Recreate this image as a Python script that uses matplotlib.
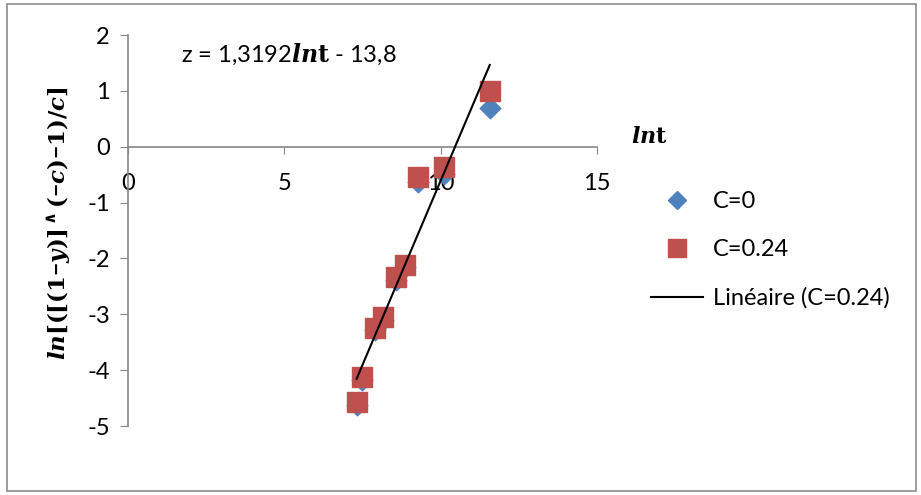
import numpy as np
import matplotlib.pyplot as plt
from matplotlib.patches import Rectangle
from matplotlib.lines import Line2D

plt.rcParams['font.family'] = ['Lato', 'DejaVu Sans']
plt.rcParams['mathtext.fontset'] = 'dejavuserif'
plt.rcParams['axes.unicode_minus'] = False

# ln t and linearised conversion for the two values of C
lnt = [7.31, 7.49, 7.89, 8.17, 8.58, 8.87, 9.28, 10.11, 11.57]
z_c0 = [-4.62, -4.18, -3.29, -3.10, -2.39, -2.16, -0.63, -0.48, 0.70]
z_c024 = [-4.57, -4.13, -3.24, -3.05, -2.34, -2.11, -0.55, -0.37, 0.99]

# linear trend for C=0.24
slope = 1.3192
intercept = -13.8

blue = '#4F81BD'
red = '#C0504D'
grey = '#868686'

fig = plt.figure(figsize=(9.21, 4.95), dpi=100)
ax = fig.add_axes([128/921, 1-426/495, (597-128)/921, (426-35)/495])

ax.scatter(lnt, z_c0, marker='D', s=110, color=blue, zorder=3, label='C=0')
ax.scatter(lnt, z_c024, marker='s', s=210, color=red, zorder=4, label='C=0.24')
xf = np.array([min(lnt), max(lnt)])
ax.plot(xf, slope*xf + intercept, color='black', lw=1.5, zorder=5, label='Linéaire (C=0.24)')

ax.set_xlim(0, 15)
ax.set_ylim(-5, 2)
ax.set_xticks([0, 5, 10, 15])
ax.set_yticks(range(-5, 3))
ax.spines['left'].set_position(('data', 0))
ax.spines['bottom'].set_position(('data', 0))
ax.spines['top'].set_visible(False)
ax.spines['right'].set_visible(False)
for s in ['left', 'bottom']:
    ax.spines[s].set_color(grey)
    ax.spines[s].set_linewidth(1.2)
ax.tick_params(axis='x', direction='out', length=5, pad=14, colors=grey, labelcolor='black', labelsize=17)
ax.tick_params(axis='y', direction='out', length=6, pad=7, colors=grey, labelcolor='black', labelsize=17)
ax.patch.set_visible(False)

ax.text(1.7, 1.65, r'z = 1,3192$\boldsymbol{ln}$$\mathbf{t}$ - 13,8', fontsize=17, va='center')
ax.text(16.1, 0.18, r'$\boldsymbol{ln}$$\mathbf{t}$', fontsize=16, va='center', clip_on=False)

fig.text(59/921, 1-223/495,
         r'$\boldsymbol{ln}$$\mathbf{[([(1}$−$\boldsymbol{y}$$\mathbf{)]^\wedge(}$−$\boldsymbol{c}$$\mathbf{)}$−$\mathbf{1)/}$$\boldsymbol{c}$$\mathbf{]}$',
         rotation=90, fontsize=16.5, fontweight='bold', ha='center', va='center')

handles = [
    Line2D([], [], marker='D', ls='none', color=blue, markersize=9),
    Line2D([], [], marker='s', ls='none', color=red, markersize=13),
    Line2D([], [], color='black', lw=1.5),
]
fig.legend(handles, ['C=0', 'C=0.24', 'Linéaire (C=0.24)'], loc='center left',
           bbox_to_anchor=(630/921, 1-250/495), frameon=False, fontsize=17,
           handlelength=2.2, labelspacing=1.15, handletextpad=0.4)

fig.patches.append(Rectangle((7/921, 4/495), 909/921, 487/495, transform=fig.transFigure,
                             fill=False, edgecolor='#8c8c8c', lw=1.2))

fig.savefig('out.png', dpi=100)
